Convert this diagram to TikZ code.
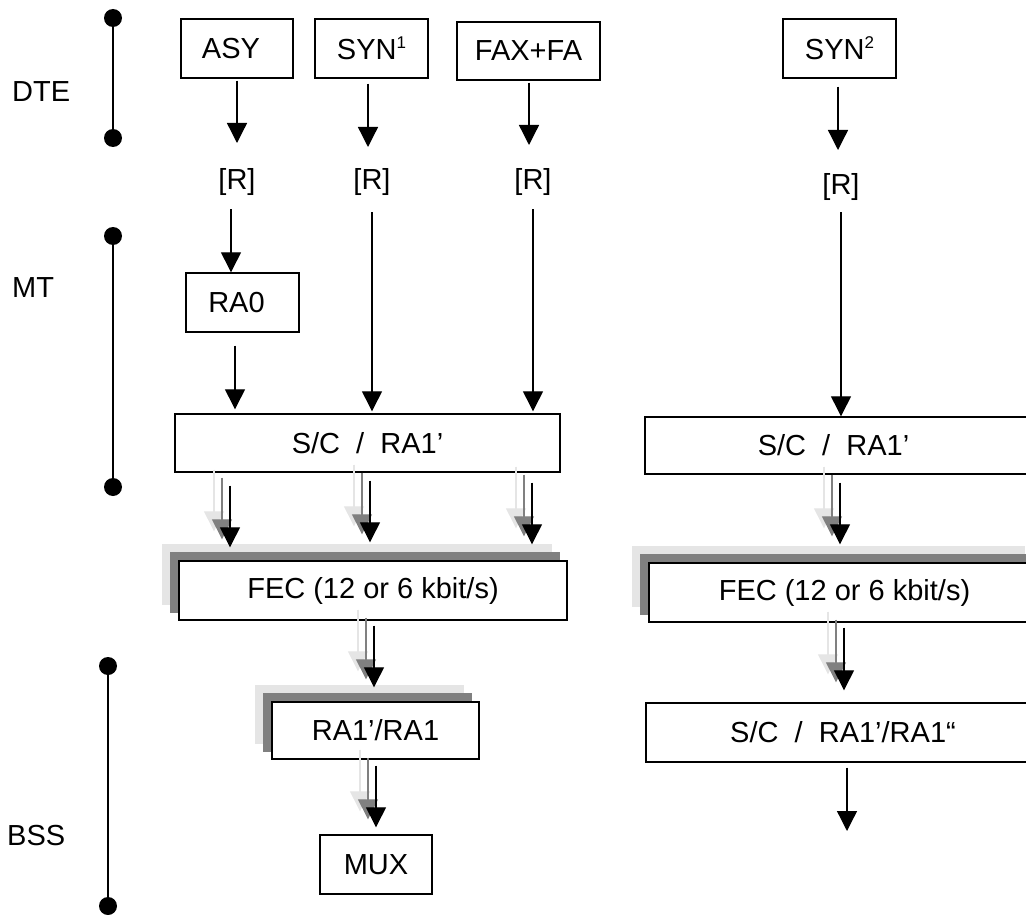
\documentclass[tikz,border=0pt]{standalone}
\usepackage{fontspec}
\setmainfont{Liberation Sans}
\usetikzlibrary{arrows.meta,backgrounds,calc}
\definecolor{lg}{gray}{0.9}
\definecolor{dg}{gray}{0.5}
\newcommand\supx[1]{\raisebox{11pt}{\fontsize{17}{17}\selectfont #1}}
\newcommand\shadowarr[2]{%
  \draw[arr, draw=lg, transform canvas={xshift=-16pt,yshift=16pt}] #1 -- #2;
  \draw[arr, draw=dg, transform canvas={xshift=-8pt,yshift=8pt}] #1 -- #2;
  \draw[arr] #1 -- #2;}
\begin{document}
\begin{tikzpicture}[x=1pt,y=-1pt,
  box/.style={draw, line width=1.4pt, fill=white, inner sep=0pt,
    font=\fontsize{29}{34}\selectfont, minimum height=59pt},
  lbl/.style={inner sep=0pt, font=\fontsize{29}{34}\selectfont},
  arr/.style={line width=1.3pt, -{Triangle[length=20pt,width=20pt]}},
  dot/.style={circle, fill=black, inner sep=0pt, minimum size=18pt},
  bar/.style={line width=1.4pt}]
\useasboundingbox (0,0) rectangle (1026,915);

% level bars
\node[dot] (d1) at (113,18) {};
\node[dot] (d2) at (113,138) {};
\node[dot] (d3) at (113,236) {};
\node[dot] (d4) at (113,487) {};
\node[dot] (d5) at (108,666) {};
\node[dot] (d6) at (108,906) {};
\draw[bar] (d1) -- (d2);
\draw[bar] (d3) -- (d4);
\draw[bar] (d5) -- (d6);
\node[lbl, anchor=west] (dte) at (12,92) {DTE};
\node[lbl, anchor=west] (mt) at (12,288) {MT};
\node[lbl, anchor=west] (bss) at (7,836) {BSS};

% top boxes
\node[box, minimum width=112pt] (asy) at (237,48.5) {ASY\hspace*{12pt}};
\node[box, minimum width=113pt] (syn1) at (371.5,48.5) {SYN\supx{1}};
\node[box, minimum width=143pt, minimum height=58pt] (fax) at (528.5,51) {FAX+FA};
\node[box, minimum width=113pt] (syn2) at (839.5,48.5) {SYN\supx{2}};

% [R]
\node[lbl] (r1) at (237,182) {[R]};
\node[lbl] (r2) at (372,182) {[R]};
\node[lbl] (r3) at (533,182) {[R]};
\node[lbl] (r4) at (841,187) {[R]};

\node[box, minimum width=113pt] (ra0) at (242.5,302.5) {RA0\hspace*{12pt}};
\node[box, minimum width=385pt, minimum height=58pt] (sc1) at (367.5,443) {S/C\ \ /\ \ RA1’};
\node[box, minimum width=395pt, minimum height=57pt] (sc2) at (842.5,445.5) {S/C\ \ /\ \ RA1’\hspace*{18pt}};
\node[box, minimum width=388pt] (fec1) at (373,590.5) {FEC (12 or 6 kbit/s)};
\node[box, minimum width=391pt] (fec2) at (844.5,592.5) {FEC (12 or 6 kbit/s)};
\node[box, minimum width=207pt, minimum height=57pt] (ra1) at (375.5,730.5) {RA1’/RA1};
\node[box, minimum width=394pt] (sc3) at (843,732.5) {S/C\ \ /\ \ RA1’/RA1“};
\node[box, minimum width=112pt] (mux) at (376,864.5) {MUX};
\coordinate (end2) at (847,831);

% shadows
\begin{scope}[on background layer]
  \foreach \n in {fec1,fec2,ra1}{
    \fill[lg] ([shift={(-16,-16)}]\n.north west) rectangle ([shift={(-16,-16)}]\n.south east);
    \fill[dg] ([shift={(-8,-8)}]\n.north west) rectangle ([shift={(-8,-8)}]\n.south east);
  }
\end{scope}

% plain arrows
\draw[arr] ([yshift=-2pt]asy.south) -- ([yshift=39pt]r1.center);
\draw[arr] ([xshift=-3.5pt,yshift=-5pt]syn1.south) -- ([xshift=-4pt,yshift=35pt]r2.center);
\draw[arr] ([xshift=0.5pt,yshift=-2pt]fax.south) -- ([xshift=-4pt,yshift=37pt]r3.center);
\draw[arr] ([xshift=-1.5pt,yshift=-8pt]syn2.south) -- ([xshift=-3pt,yshift=37pt]r4.center);
\draw[arr] ([xshift=-6pt,yshift=-27pt]r1.center) -- ([xshift=-11.5pt]ra0.north);
\draw[arr] ([xshift=-7.5pt,yshift=-13pt]ra0.south) -- ([xshift=-132.5pt,yshift=4pt]sc1.north);
\draw[arr] ([yshift=-30pt]r2.center) -- ([xshift=4.5pt,yshift=2pt]sc1.north);
\draw[arr] ([yshift=-27pt]r3.center) -- ([xshift=165.5pt,yshift=2pt]sc1.north);
\draw[arr] ([yshift=-25pt]r4.center) -- ([xshift=-1.5pt]sc2.north);
\draw[arr] ([xshift=4pt,yshift=-5pt]sc3.south) -- (end2);

% shadowed arrows
\shadowarr{([xshift=-137.5pt,yshift=-13pt]sc1.south)}{([xshift=-143pt,yshift=13pt]fec1.north)}
\shadowarr{([xshift=2.5pt,yshift=-8pt]sc1.south)}{([xshift=-3pt,yshift=18pt]fec1.north)}
\shadowarr{([xshift=164.5pt,yshift=-10pt]sc1.south)}{([xshift=159pt,yshift=16pt]fec1.north)}
\shadowarr{([xshift=-2.5pt,yshift=-8pt]sc2.south)}{([xshift=-4.5pt,yshift=18pt]fec2.north)}
\shadowarr{([xshift=1pt,yshift=-5pt]fec1.south)}{([xshift=-1.5pt,yshift=14pt]ra1.north)}
\shadowarr{([xshift=-0.5pt,yshift=-5pt]fec2.south)}{([xshift=1pt,yshift=12pt]sc3.north)}
\shadowarr{([xshift=0.5pt,yshift=-6pt]ra1.south)}{([yshift=7pt]mux.north)}
\end{tikzpicture}
\end{document}
